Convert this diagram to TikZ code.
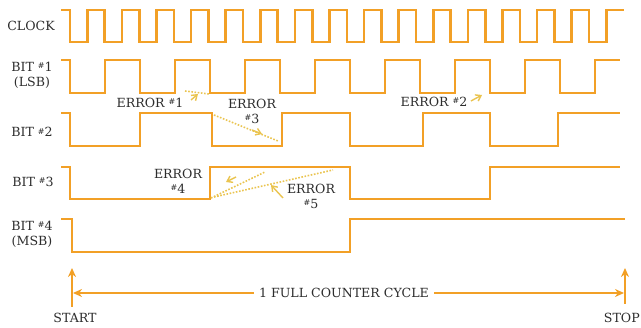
\documentclass[tikz,border=0pt]{standalone}
\usepackage{fontspec}
\setmainfont{DejaVu Serif}
\usetikzlibrary{arrows.meta}
\definecolor{wave}{RGB}{242,160,38}
\definecolor{errc}{RGB}{234,196,80}
\definecolor{txt}{RGB}{45,45,45}
\newcommand{\hsh}{{\raisebox{0.4ex}{\fontsize{8}{9}\selectfont\#}}}
\begin{document}
\begin{tikzpicture}[x=1pt,y=-1pt,
  wv/.style={draw=wave,line width=2.6pt,line join=miter,line cap=butt},
  lbl/.style={text=txt,font=\fontsize{12.6}{15}\selectfont,align=center,inner sep=0pt},
  errline/.style={draw=errc,line width=1.6pt,dash pattern=on 1.6pt off 1.6pt},
  errtip/.style={draw=errc,line width=1.4pt,-{Straight Barb[length=5pt,width=7pt]}},
  cyc/.style={draw=wave,line width=2.4pt,-{Stealth[length=9pt,width=8pt]}}]
\useasboundingbox (0,0) rectangle (641,328);
% clock
\draw[wv] (61,10) -- (70,10)
  \foreach \k in {0,...,15} { -- ++(0,32) -- ++(17.3,0) -- ++(0,-32) -- ++(17.3,0) };
% bit 1
\draw[wv] (61,60) -- (70,60)
  \foreach \k in {0,...,6} { -- ++(0,33) -- ++(35,0) -- ++(0,-33) -- ++(35,0) }
  -- ++(0,33) -- ++(35,0) -- ++(0,-33) -- ++(25,0);
% bit 2
\draw[wv] (61,113) -- (70,113) -- (70,146) -- (140,146) -- (140,113) -- (212,113)
  -- (212,146) -- (282,146) -- (282,113) -- (350,113) -- (350,146) -- (423,146)
  -- (423,113) -- (490,113) -- (490,146) -- (558,146) -- (558,113) -- (620,113);
% bit 3
\draw[wv] (61,167) -- (70,167) -- (70,199) -- (210,199) -- (210,167) -- (350,167)
  -- (350,199) -- (490,199) -- (490,167) -- (620,167);
% bit 4
\draw[wv] (61,219) -- (72,219) -- (72,252) -- (350,252) -- (350,219) -- (625,219);
% labels
\node[lbl] (lclk) at (31,26) {CLOCK};
\node[lbl] (lb1) at (32,75) {BIT \hsh1\\(LSB)};
\node[lbl] (lb2) at (32,132) {BIT \hsh2};
\node[lbl] (lb3) at (33,182) {BIT \hsh3};
\node[lbl] (lb4) at (32,234) {BIT \hsh4\\(MSB)};
% error labels
\node[lbl] (e1) at (150,103) {ERROR \hsh1};
\node[lbl] (e3) at (252,111) {ERROR\\\hsh3};
\node[lbl] (e2) at (434,102) {ERROR \hsh2};
\node[lbl] (e4) at (178,181) {ERROR\\\hsh4};
\node[lbl] (e5) at (311,196) {ERROR\\\hsh5};
% error lines
\coordinate (a1) at (185,91); \coordinate (a1b) at (209,94);
\draw[errline] (a1) -- (a1b);
\coordinate (t1a) at (191,100); \coordinate (t1b) at (198,94);
\draw[errtip] (t1a) -- (t1b);
\coordinate (a2) at (471,101); \coordinate (a2b) at (482,95);
\draw[errtip] (a2) -- (a2b);
\coordinate (a3) at (214,115); \coordinate (a3b) at (278,141);
\draw[errline] (a3) -- (a3b);
\coordinate (t3a) at (252,130); \coordinate (t3b) at (262,134);
\draw[errtip] (t3a) -- (t3b);
\coordinate (a4) at (211,198); \coordinate (a4b) at (265,172);
\draw[errline] (a4) -- (a4b);
\coordinate (t4a) at (226,182); \coordinate (t4b) at (236,177);
\draw[errtip] (t4b) -- (t4a);
\coordinate (a5) at (214,197); \coordinate (a5b) at (333,170);
\draw[errline] (a5) -- (a5b);
\coordinate (t5a) at (283,198); \coordinate (t5b) at (271,185);
\draw[errtip] (t5a) -- (t5b);
% cycle
\node[lbl] (cyc) at (344,293) {1 FULL COUNTER CYCLE};
\node[lbl] (start) at (75,318) {START};
\node[lbl,anchor=east] (stop) at (640,318) {STOP};
\coordinate (s0) at (72,307); \coordinate (s1) at (72,268);
\coordinate (p0) at (625,304); \coordinate (p1) at (625,268);
\coordinate (sl) at (73,293); \coordinate (pr) at (624,293);
\draw[cyc] (s0) -- (s1);
\draw[cyc] (p0) -- (p1);
\draw[cyc] ([xshift=-5pt]cyc.west) -- (sl);
\draw[cyc] ([xshift=5pt]cyc.east) -- (pr);
\end{tikzpicture}
\end{document}
